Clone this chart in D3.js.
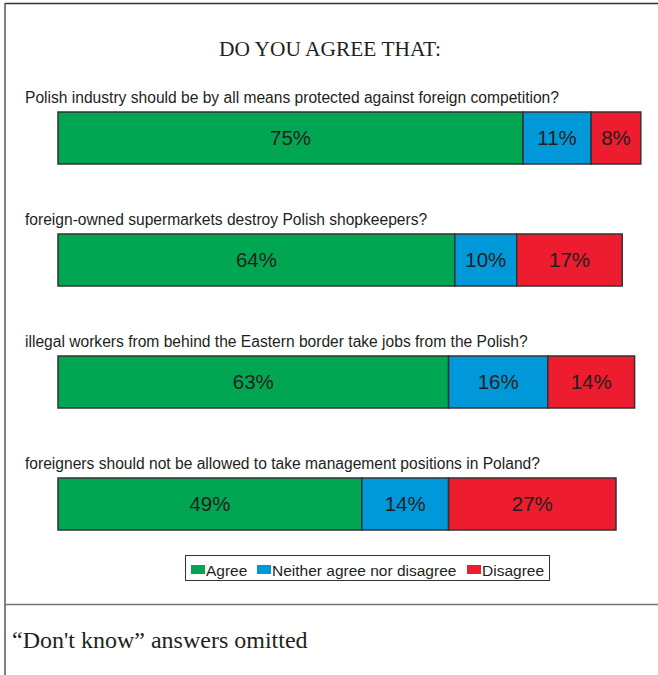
<!DOCTYPE html>
<html><head><meta charset="utf-8">
<script src="https://cdn.jsdelivr.net/npm/d3@7"></script>
<style>body{margin:0;background:#fff}</style>
</head><body>
<script>
const questions = [
  "Polish industry should be by all means protected against foreign competition?",
  "foreign-owned supermarkets destroy Polish shopkeepers?",
  "illegal workers from behind the Eastern border take jobs from the Polish?",
  "foreigners should not be allowed to take management positions in Poland?"
];
const seriesNames = ["Agree", "Neither agree nor disagree", "Disagree"];
const agree = [75, 64, 63, 49];
const neither = [11, 10, 16, 14];
const disagree = [8, 17, 14, 27];
const colors = ["#00a651", "#0098d9", "#ed1c2e"];

const W = 658, H = 675;
const svg = d3.select("body").append("svg").attr("width", W).attr("height", H);

// frame
svg.append("line").attr("x1",5).attr("x2",W).attr("y1",3.5).attr("y2",3.5).attr("stroke","#333").attr("stroke-width",1.5);
svg.append("line").attr("x1",5).attr("x2",5).attr("y1",3).attr("y2",H).attr("stroke","#555").attr("stroke-width",1.5);
svg.append("line").attr("x1",5).attr("x2",W).attr("y1",604.5).attr("y2",604.5).attr("stroke","#777").attr("stroke-width",1.5);

svg.append("text").attr("x",330).attr("y",56).attr("text-anchor","middle")
  .style("font-family","'Liberation Serif', serif").style("font-size","20px").attr("fill","#231f20")
  .attr("textLength",222).attr("lengthAdjust","spacingAndGlyphs")
  .text("DO YOU AGREE THAT:");

const x = d3.scaleLinear().domain([0, 100]).range([58, 58 + 620]);
const yb = d3.scaleLinear().domain([0, 1]).range([112, 234]);
const bh = 52;

const data = questions.map((q,i)=>({q, vals:[agree[i], neither[i], disagree[i]]}));
const g = svg.selectAll("g.row").data(data).join("g").attr("class","row");

g.append("text").attr("x",25).attr("y",(d,i)=>yb(i)-9)
  .style("font-family","'Liberation Sans', Arial, sans-serif").style("font-size","15.6px").attr("fill","#231f20")
  .text(d=>d.q);

g.each(function(d,i){
  let cum = 0;
  const segs = d.vals.map((v,k)=>{ const s={v,k,x0:cum,x1:cum+v}; cum+=v; return s; });
  const sel = d3.select(this);
  sel.selectAll("rect").data(segs).join("rect")
    .attr("x", s=>x(s.x0)).attr("width", s=>x(s.x1)-x(s.x0))
    .attr("y", yb(i)).attr("height", bh)
    .attr("fill", s=>colors[s.k]).attr("stroke","#333").attr("stroke-width",1.5);
  sel.selectAll("text.lab").data(segs).join("text").attr("class","lab")
    .attr("x", s=>(x(s.x0)+x(s.x1))/2).attr("y", yb(i)+bh/2+7)
    .attr("text-anchor","middle")
    .style("font-family","'Liberation Sans', Arial, sans-serif").style("font-size","20.5px").attr("fill","#231f20")
    .text(s=>s.v+"%");
});

// legend
const lg = svg.append("g");
lg.append("rect").attr("x",185.5).attr("y",555.5).attr("width",364).attr("height",25).attr("fill","#fff").attr("stroke","#333").attr("stroke-width",1);
const legX = [191, 257, 467];
seriesNames.forEach((n,k)=>{
  lg.append("rect").attr("x",legX[k]).attr("y",565).attr("width",14).attr("height",9).attr("fill",colors[k]);
  lg.append("text").attr("x",legX[k]+15).attr("y",576)
    .style("font-family","'Liberation Sans', Arial, sans-serif").style("font-size","15.5px").attr("fill","#231f20").text(n);
});

svg.append("text").attr("x",12).attr("y",648)
  .style("font-family","'Liberation Serif', serif").style("font-size","24px").attr("fill","#231f20")
  .text("\u201CDon't know\u201D answers omitted");
</script>
</body></html>
